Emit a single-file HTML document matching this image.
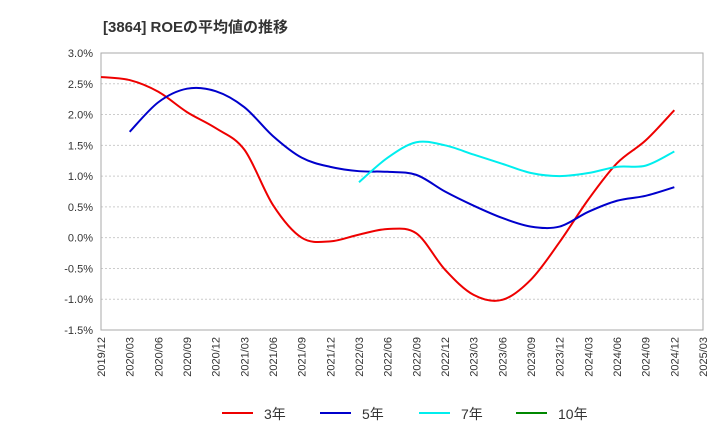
<!DOCTYPE html>
<html><head><meta charset="utf-8"><style>
body{margin:0;background:#fff;font-family:"Liberation Sans","Noto Sans CJK JP",sans-serif}
svg text{font-family:"Liberation Sans","Noto Sans CJK JP",sans-serif}
</style></head><body>
<svg id="chart" width="720" height="440">
<text x="103" y="32" font-size="15" font-weight="bold" fill="#333">[3864]  ROEの平均値の推移</text>
<g id="grid"></g><g id="axes"></g><g id="series"></g><g id="legend"></g>
</svg>
<script>
const xLabels=["2019/12","2020/03","2020/06","2020/09","2020/12","2021/03","2021/06","2021/09","2021/12","2022/03","2022/06","2022/09","2022/12","2023/03","2023/06","2023/09","2023/12","2024/03","2024/06","2024/09","2024/12","2025/03"];
const yTicks=[3.0,2.5,2.0,1.5,1.0,0.5,0.0,-0.5,-1.0,-1.5];
const roe3=[2.61,2.56,2.37,2.04,1.78,1.43,0.53,0.0,-0.06,0.05,0.14,0.07,-0.52,-0.93,-1.01,-0.68,-0.07,0.62,1.21,1.58,2.07];
const roe5=[null,1.72,2.2,2.42,2.38,2.12,1.65,1.3,1.15,1.08,1.07,1.02,0.75,0.52,0.32,0.18,0.18,0.42,0.6,0.68,0.82];
const roe7=[null,null,null,null,null,null,null,null,null,0.9,1.3,1.55,1.5,1.35,1.2,1.05,1.0,1.05,1.15,1.17,1.4];
const roe10=[];
const L=101,R=703,T=53,B=330,NS="http://www.w3.org/2000/svg";
const xs=i=>L+i*(R-L)/(xLabels.length-1);
const ys=v=>T+(3.0-v)*(B-T)/4.5;
function mk(tag,attrs,parent){const e=document.createElementNS(NS,tag);for(const k in attrs)e.setAttribute(k,attrs[k]);parent.appendChild(e);return e;}
const grid=document.getElementById('grid'),axes=document.getElementById('axes'),ser=document.getElementById('series'),leg=document.getElementById('legend');
yTicks.forEach(v=>{
 const l=mk('line',{x1:L,x2:R,y1:ys(v),y2:ys(v),stroke:'#ccc','stroke-width':1,'stroke-dasharray':v===3.0||v===-1.5?'':'2,2'},grid);
 
 
 const t=mk('text',{x:L-8,y:ys(v)+4,'text-anchor':'end','font-size':11,fill:'#333'},axes);
 t.textContent=v.toFixed(1)+'%';
 
 
});
const box=mk('rect',{x:L,y:T,width:R-L,height:B-T,fill:'none',stroke:'#aaa'},axes);


xLabels.forEach((s,i)=>{
 const t=mk('text',{transform:`translate(${xs(i)+4},${B+7}) rotate(-90)`,'text-anchor':'end','font-size':11,fill:'#333'},axes);
 t.textContent=s;
 
 
});
function path(arr){
 const p=[];arr.forEach((v,i)=>{if(v!==null&&v!==undefined)p.push([xs(i),ys(v)]);});
 if(p.length<2)return '';
 let d=`M${p[0][0]},${p[0][1]}`;
 for(let i=0;i<p.length-1;i++){
  const p0=p[i-1]||p[i],p1=p[i],p2=p[i+1],p3=p[i+2]||p2;
  const c1=[p1[0]+(p2[0]-p0[0])/6,p1[1]+(p2[1]-p0[1])/6],c2=[p2[0]-(p3[0]-p1[0])/6,p2[1]-(p3[1]-p1[1])/6];
  d+=` C${c1[0]},${c1[1]} ${c2[0]},${c2[1]} ${p2[0]},${p2[1]}`;
 }
 return d;
}
[[roe3,'#e00','line-3y'],[roe5,'#00c','line-5y'],[roe7,'#0ee','line-7y'],[roe10,'#080','line-10y']].forEach(([a,c,n])=>{
 const d=path(a);if(!d)return;
 const e=mk('path',{d:d,fill:'none',stroke:c,'stroke-width':2},ser);
 
 
});
[['3年','#e00',222],['5年','#00c',320],['7年','#0ee',419],['10年','#080',516]].forEach(([s,c,x])=>{
 const g=mk('g',{},leg);
 
 
 mk('line',{x1:x,x2:x+31,y1:413,y2:413,stroke:c,'stroke-width':2},g);
 const t=mk('text',{x:x+42,y:419,'font-size':14,fill:'#333'},g);t.textContent=s;
});
</script>
</body></html>
